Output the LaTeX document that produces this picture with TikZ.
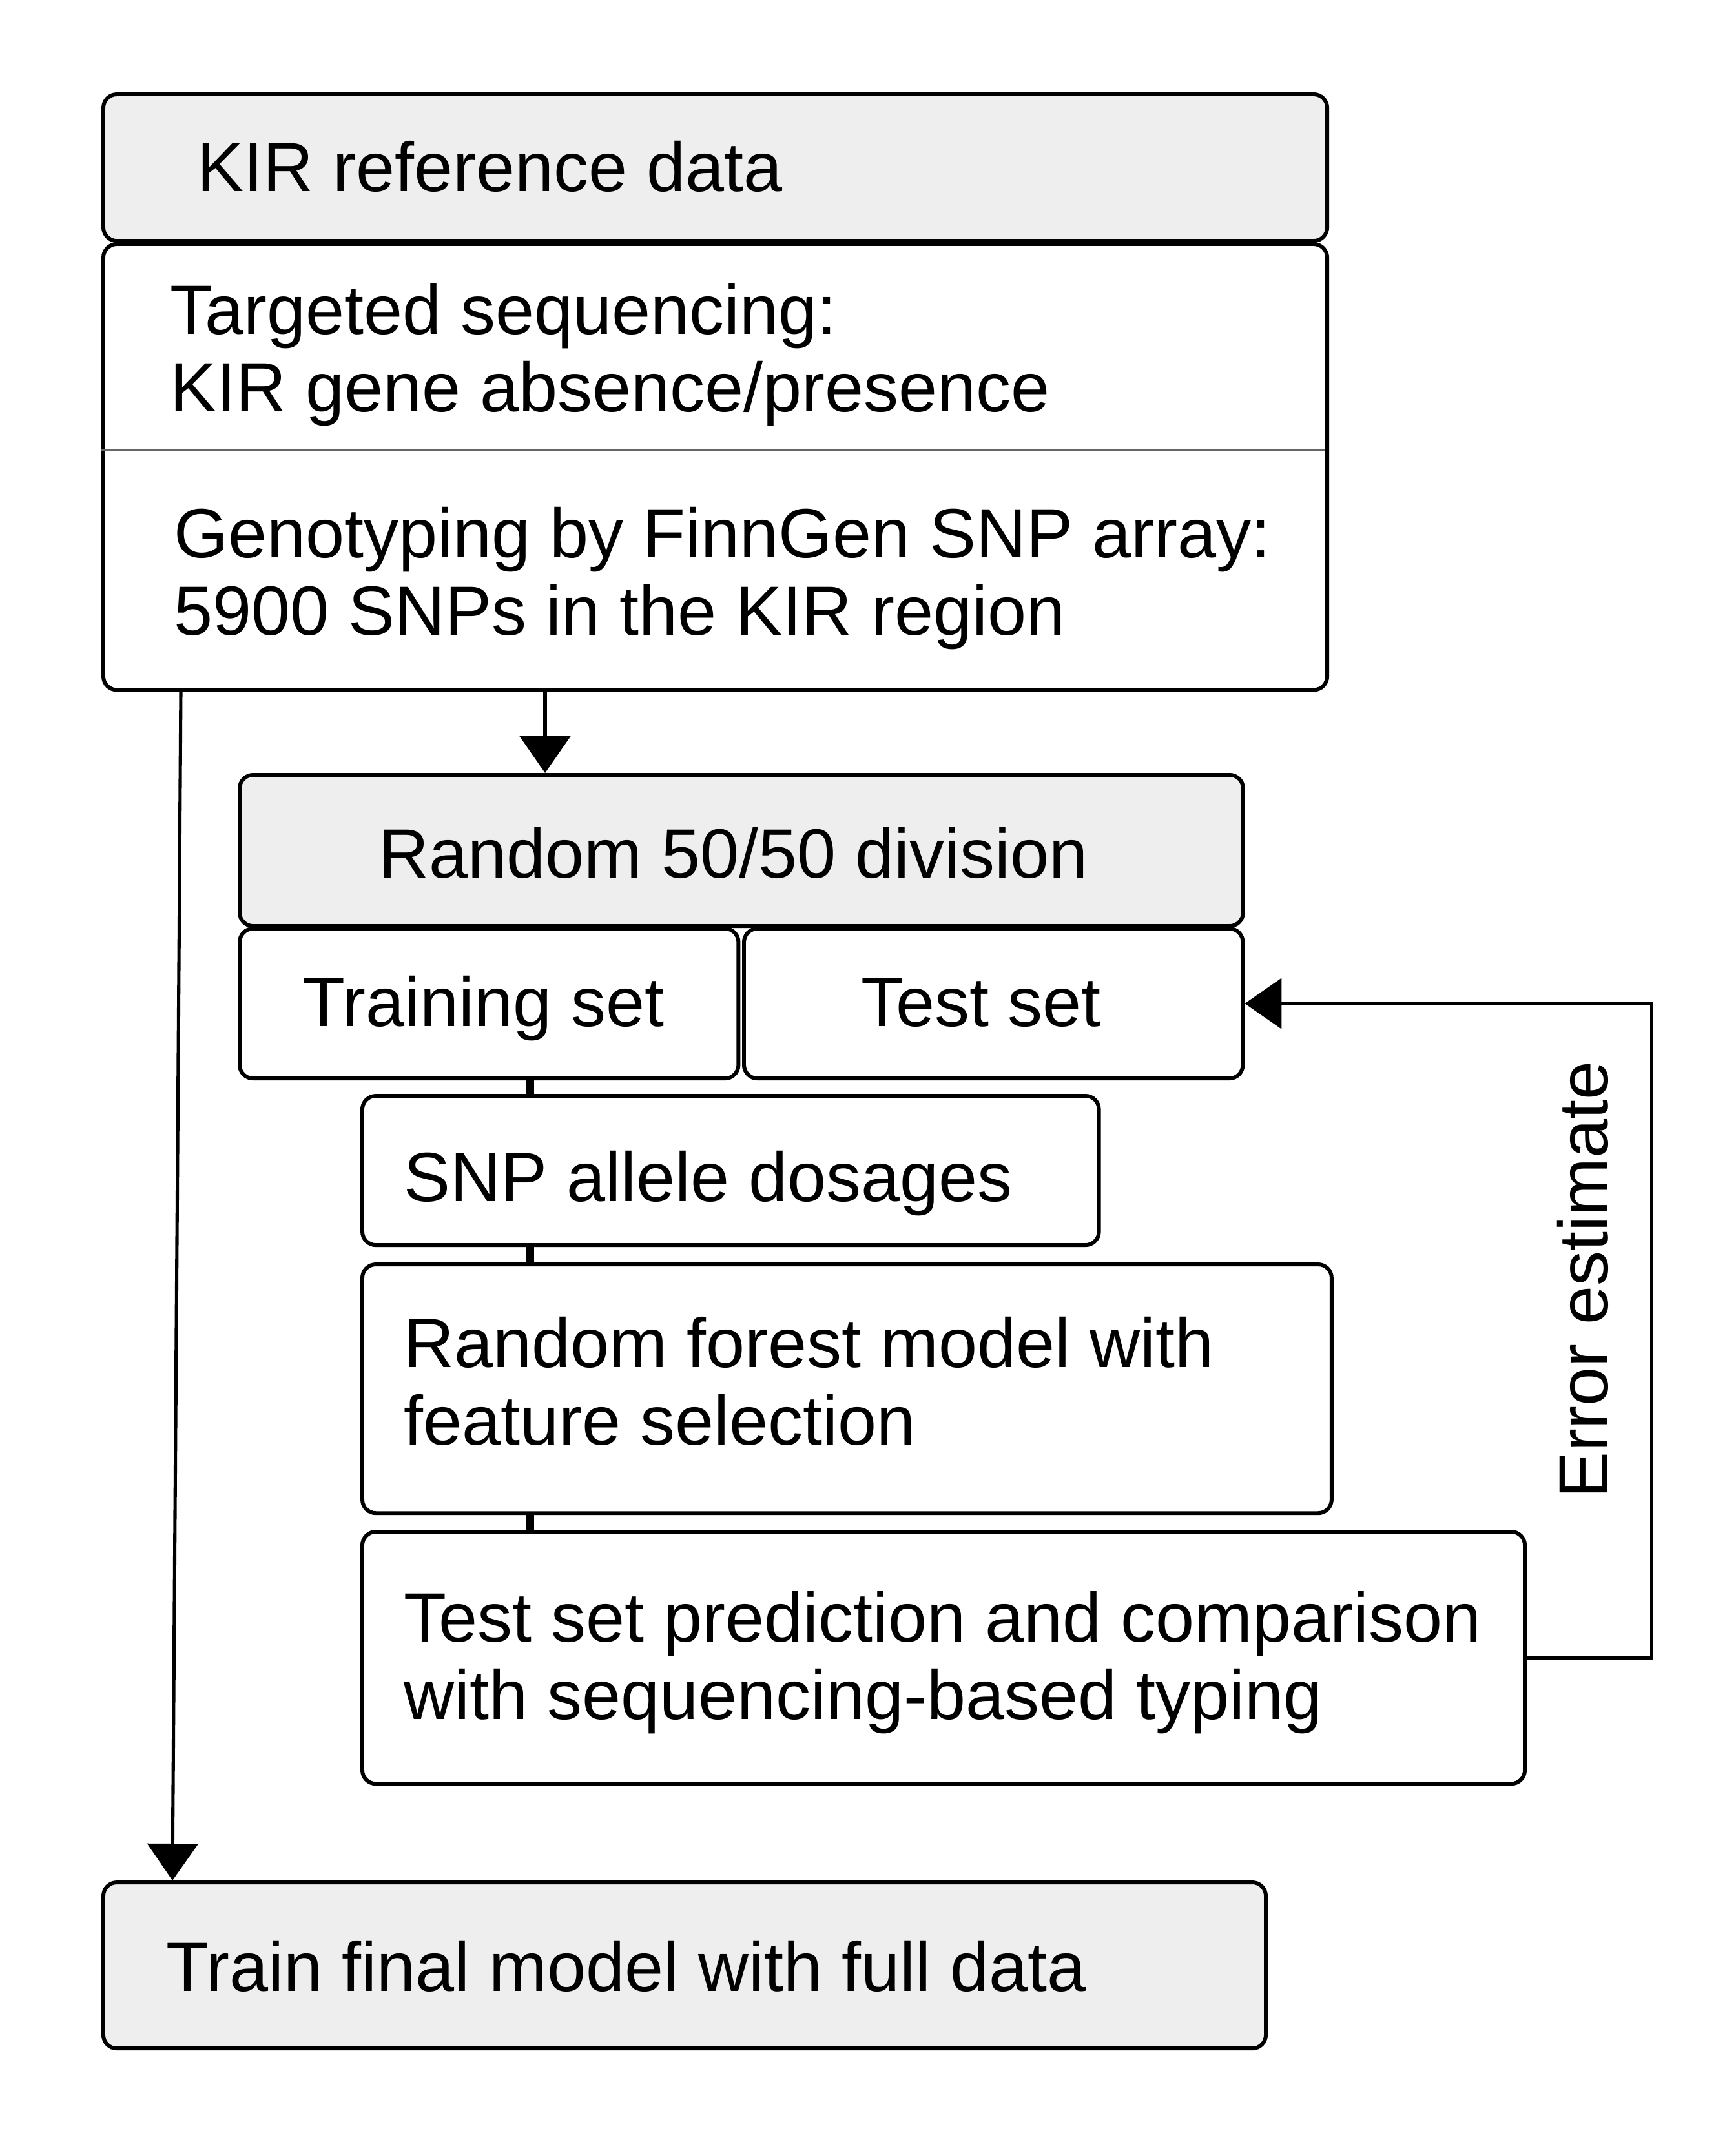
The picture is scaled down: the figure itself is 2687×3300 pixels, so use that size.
\documentclass[tikz,border=0pt]{standalone}
\usepackage{fontspec}
\setmainfont{Liberation Sans}
\usetikzlibrary{arrows.meta,calc}
\definecolor{boxgray}{HTML}{EEEEEE}
\definecolor{divgray}{HTML}{666666}
\newcommand{\fsz}{\fontsize{30.7pt}{34.1pt}\selectfont}
\begin{document}
\begin{tikzpicture}[x=0.01cm,y=-0.01cm,
  box/.style={draw, line width=1.7pt, rounded corners=0.21cm, anchor=north west, inner sep=0pt},
  gbox/.style={box, fill=boxgray},
  txt/.style={font=\fsz, inner sep=0pt, align=left},
  arr/.style={line width=1.45pt, -{Triangle[length=0.57cm,width=0.78cm]}},
  ln/.style={line width=3.3pt}]
\useasboundingbox (0,0) rectangle (2687,3300);

% boxes
\node[gbox, minimum width=18.94cm, minimum height=2.27cm] (hdr) at (157,143) {};
\node[box, minimum width=18.94cm, minimum height=6.90cm] (body) at (157,375) {};
\coordinate (dl) at (157,697);
\coordinate (dr) at (2051,697);
\draw[divgray, line width=1.3pt] (dl) -- (dr);

\node[gbox, minimum width=15.53cm, minimum height=2.34cm] (rnd) at (368,1197) {};
\node[box, minimum width=7.72cm, minimum height=2.32cm] (train) at (368,1435) {};
\node[box, minimum width=7.72cm, minimum height=2.32cm] (test) at (1149,1435) {};
\node[box, minimum width=11.40cm, minimum height=2.31cm] (snp) at (558,1694) {};
\node[box, minimum width=15.00cm, minimum height=3.85cm] (rf) at (558,1955) {};
\node[box, minimum width=17.99cm, minimum height=3.90cm] (tp) at (558,2369) {};
\node[gbox, minimum width=17.99cm, minimum height=2.57cm] (final) at (157,2912) {};

% texts
\node[txt, anchor=base west] (hdrt) at (305,297) {KIR reference data};
\node[txt, anchor=west] (seqt) at (263,550) {Targeted sequencing:\\KIR gene absence/presence};
\node[txt, anchor=west] (genot) at (269,896) {Genotyping by FinnGen SNP array:\\5900 SNPs in the KIR region};
\node[txt, anchor=base] (rndt) at (1136,1359) {Random 50/50 division};
\node[txt, anchor=base] (traint) at (749,1589) {Training set};
\node[txt, anchor=base] (testt) at (1519,1589) {Test set};
\node[txt, anchor=base west] (snpt) at (625,1860) {SNP allele dosages};
\node[txt, anchor=west] (rft) at (625,2139) {Random forest model with\\feature selection};
\node[txt, anchor=west] (tpt) at (625,2575) {Test set prediction and comparison\\with sequencing-based typing};
\node[txt, anchor=base west] (finalt) at (257,3083) {Train final model with full data};
\node[txt, rotate=90] (err) at (2451,1982) {Error estimate};

% connectors
\draw[arr] ($(body.south west)+(687,0)$) -- ($(rnd.north west)+(476,0)$);
\draw[arr] ($(body.south west)+(123,0)$) -- ($(final.north west)+(110,0)$);
\draw[ln] ($(train.south west)+(453,0)$) -- ($(snp.north west)+(263,0)$);
\draw[ln] ($(snp.south west)+(263,0)$) -- ($(rf.north west)+(263,0)$);
\draw[ln] ($(rf.south west)+(263,0)$) -- ($(tp.north west)+(263,0)$);
\draw[arr] (tp.east) -- ++(193,0) |- (test.east);
\end{tikzpicture}
\end{document}
